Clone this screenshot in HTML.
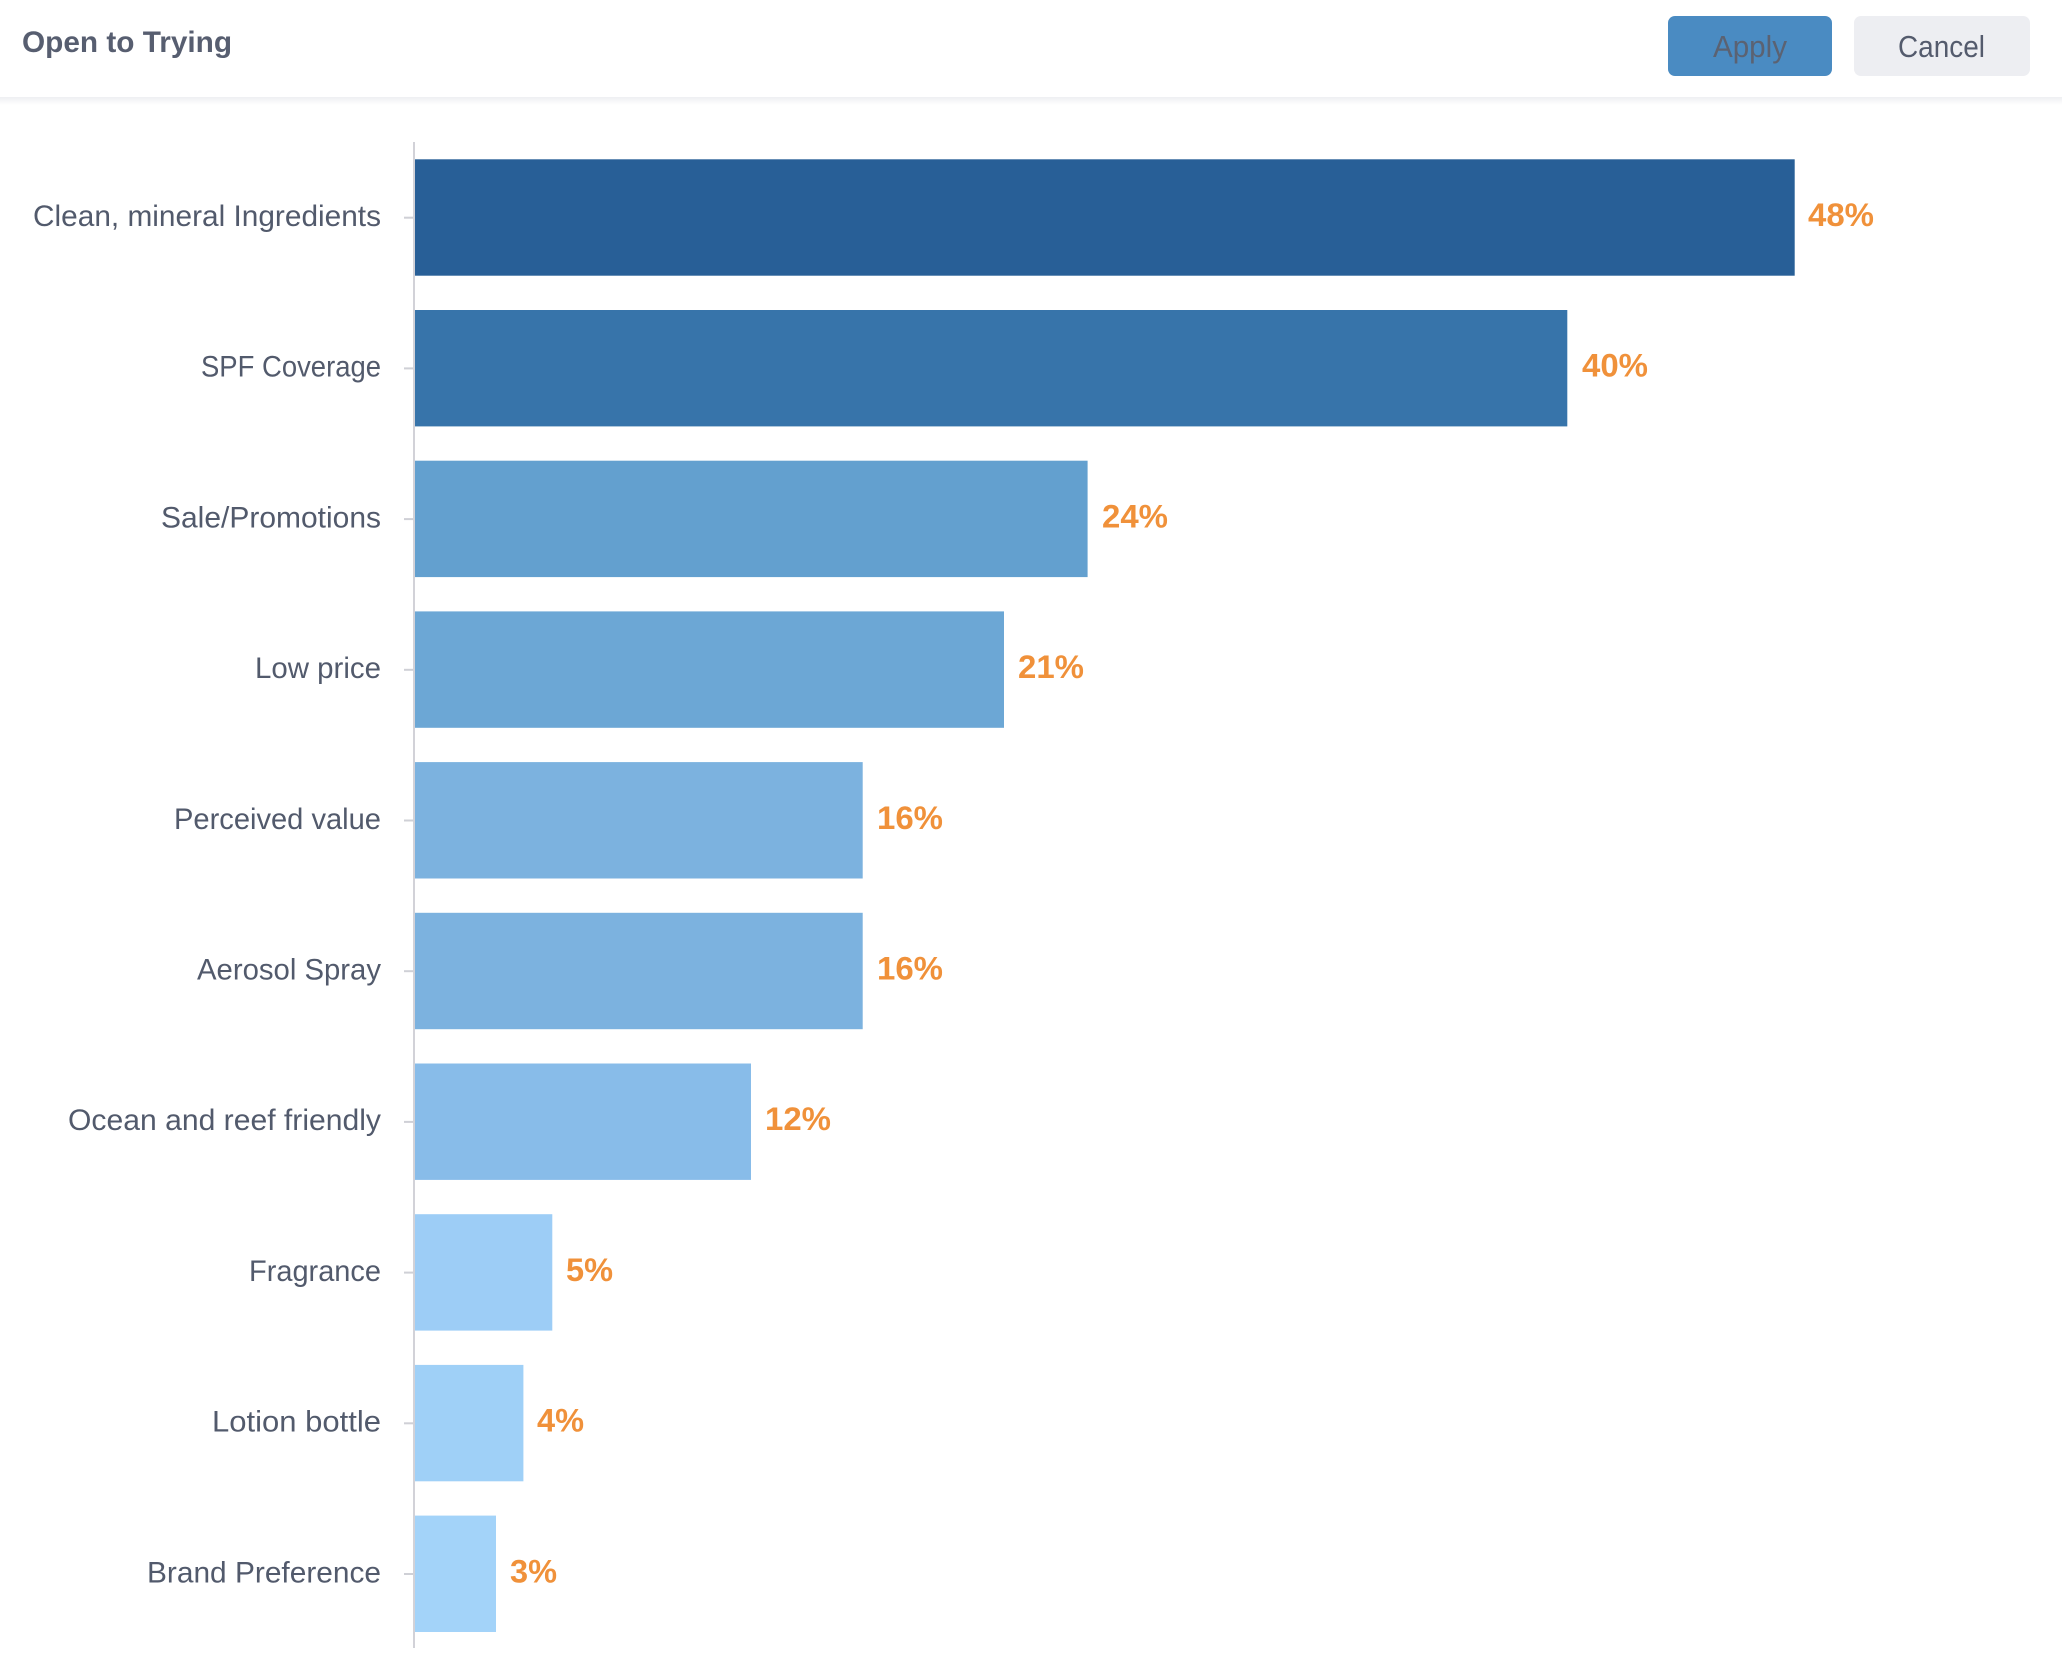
<!DOCTYPE html>
<html>
<head>
<meta charset="utf-8">
<style>
  html, body { margin:0; padding:0; background:#ffffff; }
  body { width:2062px; height:1672px; overflow:hidden; }
  svg { display:block; }
  text { font-family: "Liberation Sans", "DejaVu Sans", sans-serif; }
</style>
</head>
<body>
<svg width="2062" height="1672" viewBox="0 0 2062 1672" xmlns="http://www.w3.org/2000/svg">
  <defs>
    <linearGradient id="sh" x1="0" y1="0" x2="0" y2="1">
      <stop offset="0" stop-color="#eeeff2"/>
      <stop offset="1" stop-color="#ffffff"/>
    </linearGradient>
  </defs>
  <rect x="0" y="0" width="2062" height="1672" fill="#ffffff"/>
  <!-- header -->
  <rect x="0" y="97" width="2062" height="8" fill="url(#sh)"/>
  <text x="22" y="52" font-size="30" font-weight="bold" fill="#575e70" textLength="210" lengthAdjust="spacingAndGlyphs">Open to Trying</text>
  <rect x="1668" y="16" width="164" height="60" rx="7" fill="#4a8bc2"/>
  <text x="1713" y="57" font-size="31" fill="#5b6272" textLength="74" lengthAdjust="spacingAndGlyphs">Apply</text>
  <rect x="1854" y="16" width="176" height="60" rx="7" fill="#edeef2"/>
  <text x="1898" y="57" font-size="31" fill="#545b6d" textLength="87" lengthAdjust="spacingAndGlyphs">Cancel</text>

  <!-- axis -->
  <rect x="413" y="142" width="2" height="1506" fill="#d2d2d8"/>

  <!-- ticks -->
  <g fill="#cfd0d6">
    <rect x="404" y="216.7" width="9" height="2"/>
    <rect x="404" y="367.4" width="9" height="2"/>
    <rect x="404" y="518.1" width="9" height="2"/>
    <rect x="404" y="668.8" width="9" height="2"/>
    <rect x="404" y="819.5" width="9" height="2"/>
    <rect x="404" y="970.2" width="9" height="2"/>
    <rect x="404" y="1120.9" width="9" height="2"/>
    <rect x="404" y="1271.6" width="9" height="2"/>
    <rect x="404" y="1422.3" width="9" height="2"/>
    <rect x="404" y="1573.0" width="9" height="2"/>
  </g>

  <!-- bars -->
  <rect x="415" y="159.3" width="1379.7" height="116.4" fill="#285f97"/>
  <rect x="415" y="310.0" width="1152.3" height="116.4" fill="#3774aa"/>
  <rect x="415" y="460.7" width="672.6" height="116.4" fill="#63a0cf"/>
  <rect x="415" y="611.4" width="589" height="116.4" fill="#6ca7d5"/>
  <rect x="415" y="762.1" width="447.7" height="116.4" fill="#7cb2df"/>
  <rect x="415" y="912.8" width="447.7" height="116.4" fill="#7cb2df"/>
  <rect x="415" y="1063.5" width="336" height="116.4" fill="#88bce9"/>
  <rect x="415" y="1214.2" width="137.3" height="116.4" fill="#9dcdf6"/>
  <rect x="415" y="1364.9" width="108.4" height="116.4" fill="#9fd0f7"/>
  <rect x="415" y="1515.6" width="81" height="116.4" fill="#a3d3f9"/>

  <!-- category labels -->
  <g font-size="30" fill="#525a6c">
    <text x="33" y="226" textLength="348" lengthAdjust="spacingAndGlyphs">Clean, mineral Ingredients</text>
    <text x="201" y="376.7" textLength="180" lengthAdjust="spacingAndGlyphs">SPF Coverage</text>
    <text x="161" y="527.4" textLength="220" lengthAdjust="spacingAndGlyphs">Sale/Promotions</text>
    <text x="255" y="678.1" textLength="126" lengthAdjust="spacingAndGlyphs">Low price</text>
    <text x="174" y="828.8" textLength="207" lengthAdjust="spacingAndGlyphs">Perceived value</text>
    <text x="197" y="979.5" textLength="184" lengthAdjust="spacingAndGlyphs">Aerosol Spray</text>
    <text x="68" y="1130.2" textLength="313" lengthAdjust="spacingAndGlyphs">Ocean and reef friendly</text>
    <text x="249" y="1280.9" textLength="132" lengthAdjust="spacingAndGlyphs">Fragrance</text>
    <text x="212" y="1431.6" textLength="169" lengthAdjust="spacingAndGlyphs">Lotion bottle</text>
    <text x="147" y="1582.3" textLength="234" lengthAdjust="spacingAndGlyphs">Brand Preference</text>
  </g>

  <!-- value labels -->
  <g font-size="32" font-weight="bold" fill="#f0913a">
    <text x="1808" y="226" textLength="66" lengthAdjust="spacingAndGlyphs">48%</text>
    <text x="1582" y="376.7" textLength="66" lengthAdjust="spacingAndGlyphs">40%</text>
    <text x="1102" y="527.4" textLength="66" lengthAdjust="spacingAndGlyphs">24%</text>
    <text x="1018" y="678.1" textLength="66" lengthAdjust="spacingAndGlyphs">21%</text>
    <text x="877" y="828.8" textLength="66" lengthAdjust="spacingAndGlyphs">16%</text>
    <text x="877" y="979.5" textLength="66" lengthAdjust="spacingAndGlyphs">16%</text>
    <text x="765" y="1130.2" textLength="66" lengthAdjust="spacingAndGlyphs">12%</text>
    <text x="566" y="1280.9" textLength="47" lengthAdjust="spacingAndGlyphs">5%</text>
    <text x="537" y="1431.6" textLength="47" lengthAdjust="spacingAndGlyphs">4%</text>
    <text x="510" y="1582.3" textLength="47" lengthAdjust="spacingAndGlyphs">3%</text>
  </g>
</svg>
</body>
</html>
